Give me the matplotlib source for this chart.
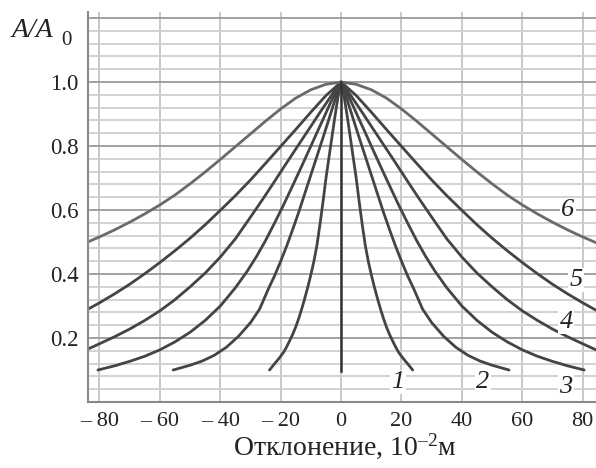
import numpy as np
import matplotlib
matplotlib.use("Agg")
import matplotlib.pyplot as plt
from matplotlib.ticker import MultipleLocator

plt.rcParams['font.family'] = ['Liberation Serif', 'DejaVu Serif']
plt.rcParams['mathtext.fontset'] = 'custom'
plt.rcParams['mathtext.rm'] = 'Liberation Serif'
plt.rcParams['mathtext.it'] = 'Liberation Serif:italic'

# кривые (правая половина, левая - зеркальная), x в 10^-2 м
x1 = [0, 1, 2, 3, 4, 5, 6, 7, 8, 9, 10, 11, 12, 13, 14, 15, 16, 17, 18, 19, 20, 21, 22, 23.7]
y1 = [1.0, 0.955, 0.895, 0.83, 0.765, 0.70, 0.625, 0.555, 0.49, 0.44, 0.398, 0.36, 0.325,
      0.292, 0.262, 0.235, 0.212, 0.192, 0.173, 0.156, 0.143, 0.131, 0.12, 0.1]
x2 = [0, 1, 2, 4, 6, 8, 10, 12, 14, 16, 18, 20, 22, 24, 27, 30, 34, 38, 42, 46, 50, 55.6]
y2 = [1.0, 0.975, 0.945, 0.885, 0.826, 0.768, 0.71, 0.652, 0.594, 0.54, 0.488, 0.44,
      0.395, 0.355, 0.29, 0.248, 0.205, 0.171, 0.146, 0.128, 0.115, 0.1]
x3 = [0, 2, 4, 6, 8, 10, 13, 16, 19, 22, 25, 28, 31, 35, 40, 45, 50, 55, 60, 65, 70, 75, 80.5]
y3 = [1.0, 0.965, 0.925, 0.883, 0.842, 0.80, 0.738, 0.677, 0.617, 0.56, 0.505, 0.455,
      0.41, 0.357, 0.30, 0.255, 0.218, 0.188, 0.163, 0.143, 0.127, 0.113, 0.1]
x4 = [0, 2, 4, 7, 10, 14, 18, 22, 26, 30, 35, 40, 45, 50, 55, 60, 65, 70, 75, 80, 84.4]
y4 = [1.0, 0.975, 0.947, 0.905, 0.862, 0.805, 0.748, 0.69, 0.633, 0.578, 0.51, 0.453,
      0.403, 0.36, 0.32, 0.285, 0.255, 0.228, 0.204, 0.182, 0.163]
x5 = [0, 5, 10, 15, 20, 25, 30, 35, 40, 45, 50, 55, 60, 65, 70, 75, 80, 84.4]
y5 = [1.0, 0.958, 0.906, 0.852, 0.799, 0.746, 0.694, 0.645, 0.599, 0.554, 0.512, 0.473,
      0.436, 0.401, 0.368, 0.338, 0.31, 0.287]
x6 = [0, 5, 10, 15, 20, 25, 30, 35, 40, 45, 50, 55, 60, 65, 70, 75, 80, 84.4]
y6 = [1.0, 0.993, 0.976, 0.95, 0.916, 0.878, 0.838, 0.798, 0.758, 0.719, 0.682, 0.647,
      0.616, 0.588, 0.562, 0.538, 0.516, 0.498]
x0 = [0, 0]
y0 = [1.0, 0.097]

curves = [(x1, y1), (x2, y2), (x3, y3), (x4, y4), (x5, y5), (x6, y6)]
labels = ['1', '2', '3', '4', '5', '6']
label_x = [18.8, 46.9, 74.5, 74.5, 77.8, 75]
label_y = [0.063, 0.063, 0.048, 0.251, 0.381, 0.6]

xticks = [-80, -60, -40, -20, 0, 20, 40, 60, 80]
xticklabels = ['\u2013 80', '\u2013 60', '\u2013 40', '\u2013 20', '0', '20', '40', '60', '80']
yticks = [0.2, 0.4, 0.6, 0.8, 1.0, 1.2]
yticklabels = ['0.2', '0.4', '0.6', '0.8', '1.0', '']

fig = plt.figure(figsize=(5.96, 4.68), dpi=100)
ax = fig.add_axes([88/596, 66/468, 508/596, 390/468])
ax.set_xlim(-83.8, 84.4)
ax.set_ylim(0, 1.219)

ax.set_xticks(xticks)
ax.set_xticklabels(xticklabels, fontsize=16)
ax.set_yticks(yticks)
ax.set_yticklabels(yticklabels, fontsize=16.5)
ax.yaxis.set_minor_locator(MultipleLocator(0.04))
ax.tick_params(which='both', length=0, pad=7, colors='#222222')
ax.grid(which='major', axis='y', color='#9a9a9a', lw=1.3)
ax.grid(which='minor', axis='y', color='#cfcfcf', lw=1.3)
ax.grid(which='major', axis='x', color='#c4c4c4', lw=1.3)
ax.set_axisbelow(True)

for s in ['top', 'right']:
    ax.spines[s].set_visible(False)
for s in ['left', 'bottom']:
    ax.spines[s].set_color('#8a8a8a')
    ax.spines[s].set_linewidth(1.5)

for i, (x, y) in enumerate(curves):
    xx = np.concatenate([-np.array(x[::-1]), np.array(x[1:])])
    yy = np.concatenate([np.array(y[::-1]), np.array(y[1:])])
    col = '#6a6a6a' if i == 5 else '#444444'
    ax.plot(xx, yy, color=col, lw=2.0, solid_capstyle='round', solid_joinstyle='round')
ax.plot(x0, y0, color='#333333', lw=1.8)

for t, lx, ly in zip(labels, label_x, label_y):
    ax.text(lx, ly, t, fontsize=19, style='italic', ha='center', va='center',
            color='#222222', bbox=dict(facecolor='white', edgecolor='none', pad=1))

fig.text(12/596, 1 - 37/468, 'A/A', fontsize=20, style='italic', color='#222222',
         ha='left', va='baseline')
fig.text(61/596, 1 - 45/468, '0', fontsize=15, color='#222222', ha='left', va='baseline')

fig.text(345/596, 1 - 455/468, 'Отклонение, 10$^{\u2013 2}$м', fontsize=20,
         color='#222222', ha='center', va='baseline')

fig.savefig('out.png', dpi=100)
